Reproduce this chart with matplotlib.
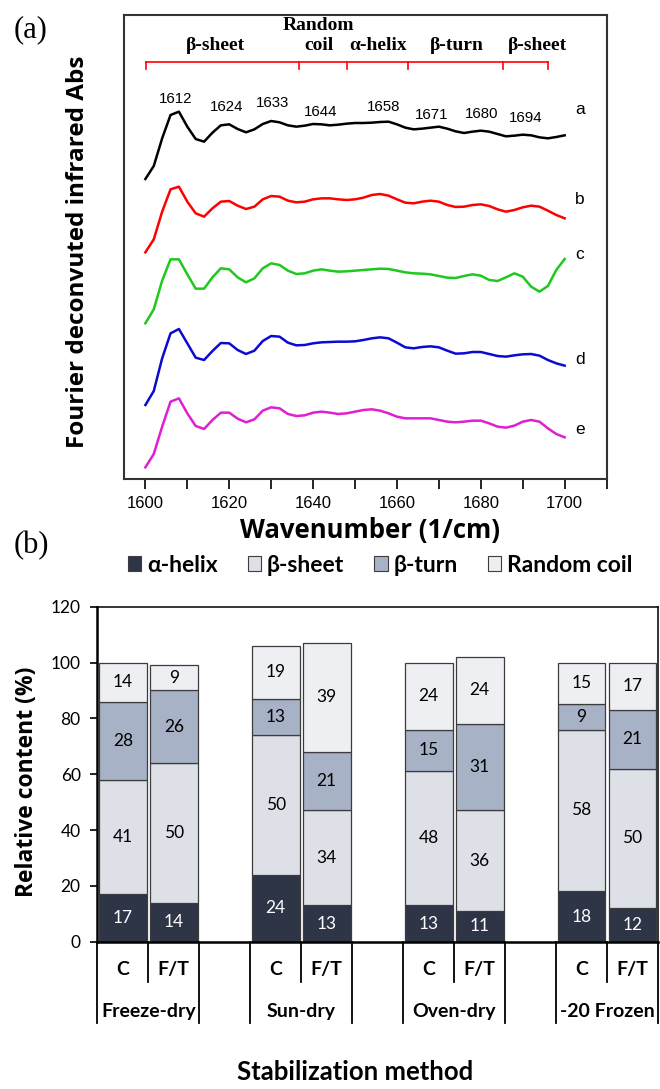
import numpy as np
import matplotlib
matplotlib.use("Agg")
import matplotlib.pyplot as plt
from matplotlib.patches import Patch
from matplotlib.font_manager import FontProperties

# ---------------- data: (a) FTIR deconvoluted spectra (stacked, offset, arb. units x1000)
wavenumber = np.arange(1600, 1701, 2)

abs_a = [943, 982, 1065, 1135, 1145, 1100, 1063, 1055, 1082, 1104, 1107, 1093, 1083, 1092, 1108, 1117, 1113,
         1104, 1100, 1103, 1108, 1107, 1104, 1106, 1109, 1111, 1111, 1112, 1114, 1115, 1107, 1097, 1092, 1094,
         1097, 1100, 1094, 1086, 1081, 1085, 1088, 1085, 1078, 1071, 1073, 1076, 1074, 1068, 1065, 1069, 1074]
abs_b = [723, 762, 845, 912, 920, 875, 840, 830, 855, 875, 877, 863, 853, 860, 882, 892, 890,
         878, 873, 875, 882, 885, 885, 882, 880, 882, 887, 895, 898, 893, 882, 872, 870, 875,
         878, 875, 865, 859, 860, 865, 867, 862, 852, 845, 850, 858, 863, 860, 848, 835, 825]
abs_c = [510, 552, 638, 702, 702, 657, 614, 614, 648, 675, 672, 648, 633, 645, 675, 690, 685,
         668, 658, 660, 668, 672, 668, 665, 666, 668, 670, 672, 674, 673, 668, 663, 660, 659,
         657, 652, 647, 646, 652, 657, 653, 640, 637, 648, 660, 650, 620, 605, 622, 670, 703]
abs_d = [265, 307, 405, 480, 493, 450, 407, 400, 427, 451, 450, 430, 418, 428, 457, 472, 470,
         452, 444, 445, 450, 453, 454, 455, 455, 456, 460, 465, 468, 465, 452, 438, 435, 439,
         441, 438, 428, 419, 420, 424, 424, 418, 412, 410, 414, 417, 418, 413, 400, 390, 383]
abs_e = [78, 118, 200, 275, 285, 240, 202, 193, 220, 242, 242, 224, 213, 222, 248, 258, 255,
         238, 232, 234, 242, 245, 242, 238, 240, 245, 250, 252, 248, 240, 230, 225, 225, 225,
         225, 220, 215, 213, 215, 218, 218, 210, 200, 197, 203, 215, 220, 215, 195, 178, 168]

curves = [abs_a, abs_b, abs_c, abs_d, abs_e]
curve_names = ["a", "b", "c", "d", "e"]
curve_colors = ["black", "#ff0000", "#1ec81e", "#0a0ad2", "#e01ed2"]
name_y = [1150, 882, 717, 403, 190]

peak_labels = ["1612", "1624", "1633", "1644", "1658", "1671", "1680", "1694"]
peak_x = [1607.2, 1619.4, 1630.2, 1641.8, 1656.8, 1668.3, 1680.2, 1690.6]
peak_y = [1183, 1159, 1171, 1144, 1159, 1135, 1138, 1126]

region_names = ["β-sheet", "Random\ncoil", "α-helix", "β-turn", "β-sheet"]
region_edges = [1600.1, 1636.7, 1648.0, 1662.7, 1685.3, 1696.1]
region_x = [1616.6, 1641.3, 1655.6, 1674.3, 1693.4]

# ---------------- data: (b) secondary structure content (%)
structures = ["α-helix", "β-sheet", "β-turn", "Random coil"]
methods = ["Freeze-dry", "Sun-dry", "Oven-dry", "-20 Frozen"]
treatments = ["C", "F/T"]
helix = [17, 14, 24, 13, 13, 11, 18, 12]
sheet = [41, 50, 50, 34, 48, 36, 58, 50]
turn = [28, 26, 13, 21, 15, 31, 9, 21]
coil = [14, 9, 19, 39, 24, 24, 15, 17]

W, H = 660, 1089
fig = plt.figure(figsize=(W / 100, H / 100), dpi=100)

sans = "Liberation Sans"
serif = "Liberation Serif"
lato = ["Lato", "DejaVu Sans"]
osans = ["Open Sans", "DejaVu Sans"]


def fx(px):
    return px / W


def fy(py):
    return 1 - py / H


# ================= panel (a)
ax1 = fig.add_axes([fx(124), fy(479), fx(607 - 124), (479 - 15) / H])
for vals, col in zip(curves, curve_colors):
    ax1.plot(wavenumber, vals, color=col, lw=1.8)
for name, yy in zip(curve_names, name_y):
    ax1.text(1703.6, yy, name, ha="center", va="center", fontsize=12.5, family=sans)
for lab, xx, yy in zip(peak_labels, peak_x, peak_y):
    ax1.text(xx, yy, lab, ha="center", va="center", fontsize=10.8, family=sans)

# red bracket with region names
ax1.plot([region_edges[0], region_edges[-1]], [1295, 1295], color="#ff0000", lw=1.2)
for e in region_edges:
    ax1.plot([e, e], [1295, 1274], color="#ff0000", lw=1.2)
for name, xx in zip(region_names, region_x):
    ax1.text(xx, 1318, name, ha="center", va="bottom", fontsize=14, family=serif,
             fontweight="bold", linespacing=1.25)

ax1.set_xlim(1594.9, 1710.1)
ax1.set_ylim(43, 1435)
ax1.set_yticks([])
xt = np.arange(1600, 1711, 10)
ax1.set_xticks(xt)
ax1.set_xticklabels([str(v) if v % 20 == 0 and v <= 1700 else "" for v in xt],
                    family=sans, fontsize=12)
ax1.tick_params(axis="x", direction="out", length=7, width=1.2, pad=5)
for s in ax1.spines.values():
    s.set_linewidth(1.5)
    s.set_color("#333333")

fig.text(fx(370), fy(531), "Wavenumber (1/cm)", ha="center", va="center",
         fontsize=18.5, fontweight="bold", family=osans)
fig.text(fx(78), fy(252), "Fourier deconvuted infrared Abs", ha="center", va="center",
         rotation=90, fontsize=17.5, fontweight="bold", family=osans)
fig.text(fx(31), fy(30), "(a)", ha="center", va="center", fontsize=22, family=serif)
fig.text(fx(31), fy(546), "(b)", ha="center", va="center", fontsize=22, family=serif)

# ================= panel (b)
ax2 = fig.add_axes([fx(97.3), fy(941.7), fx(658 - 97.3), (941.7 - 606.7) / H])
pos = [0, 1, 3, 4, 6, 7, 9, 10]
seg_colors = ["#2e3547", "#dde0e7", "#a8b2c7", "#eeeff2"]
bottom = np.zeros(len(pos))
for vals, col in zip([helix, sheet, turn, coil], seg_colors):
    vals = np.array(vals)
    ax2.bar(pos, vals, 0.94, bottom=bottom, color=col, edgecolor="#3c3c3c", lw=0.9)
    tc = "white" if col == seg_colors[0] else "black"
    for x, b, v in zip(pos, bottom, vals):
        ax2.text(x, b + v / 2, str(v), ha="center", va="center", color=tc,
                 fontsize=12.5, family=lato)
    bottom = bottom + vals

ax2.set_xlim(-0.5, 10.5)
ax2.set_ylim(0, 120)
ax2.set_yticks(np.arange(0, 121, 20))
ax2.set_yticklabels([str(v) for v in range(0, 121, 20)], family=lato, fontsize=12.5)
ax2.set_xticks([])
ax2.tick_params(axis="y", direction="out", length=5, width=1.2, pad=7)
for k, s in ax2.spines.items():
    s.set_color("black")
    s.set_linewidth(1.8 if k in ("left", "bottom") else 1.1)

# category axis below the bars
for x in [-0.5, 1.5, 2.5, 4.5, 5.5, 7.5, 8.5, 10.5]:
    ax2.plot([x, x], [0, -29.1], color="black", lw=1.3, clip_on=False)
for x in [0.5, 3.5, 6.5, 9.5]:
    ax2.plot([x, x], [0, -14.3], color="black", lw=1.3, clip_on=False)
for i, m in enumerate(methods):
    c0 = 3 * i
    for j, t in enumerate(treatments):
        ax2.text(c0 + j, -10.1, t, ha="center", va="center", fontsize=14,
                 fontweight="bold", family=lato)
    ax2.text(c0 + 0.5, -25.1, m, ha="center", va="center", fontsize=14,
             fontweight="bold", family=lato)

fig.text(fx(27), fy(782), "Relative content (%)", ha="center", va="center",
         rotation=90, fontsize=16.5, fontweight="bold", family=osans)
fig.text(fx(355.5), fy(1072), "Stabilization method", ha="center", va="center",
         fontsize=18.5, fontweight="bold", family=lato)

handles = [Patch(facecolor=c, edgecolor="#3c3c3c", lw=0.8) for c in seg_colors]
fig.legend(handles, structures, loc="center", bbox_to_anchor=(fx(380), fy(565)), ncol=4,
           frameon=False, prop=FontProperties(family=lato, weight="bold", size=16.5),
           handlelength=0.6, handleheight=0.6, handletextpad=0.25, columnspacing=1.3,
           borderpad=0, borderaxespad=0)

fig.savefig("out.png", dpi=100)
